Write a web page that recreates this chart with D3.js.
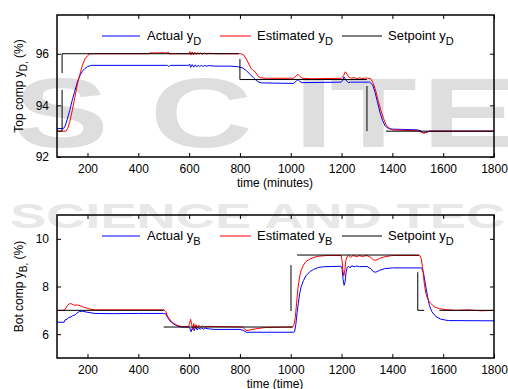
<!DOCTYPE html>
<html>
<head>
<meta charset="utf-8">
<script src="https://cdn.jsdelivr.net/npm/d3@7/dist/d3.min.js"></script>
<style>
  html, body { margin: 0; padding: 0; background: #fff; }
  svg { display: block; font-family: "Liberation Sans", Arial, sans-serif; }
</style>
</head>
<body>
<svg id="chart" width="508" height="389"></svg>
<script>
// ---- Data: time in minutes, compositions in % ----
const xTicks = [200, 400, 600, 800, 1000, 1200, 1400, 1600, 1800];
const topYTicks = [92, 94, 96];
const botYTicks = [6, 8, 10];

// Top composition y_D
const topActual = [
  [80,93.1],[105,93.1],[112,93.2],[120,93.45],[130,93.8],[140,94.2],[150,94.55],[160,94.9],
  [170,95.15],[180,95.32],[190,95.43],[200,95.5],[215,95.55],[515,95.55],[520,95.5],[525,95.55],
  [598,95.55],[602,95.6],[606,95.47],[612,95.58],[618,95.48],[624,95.57],[630,95.49],[636,95.56],
  [642,95.5],[648,95.55],[654,95.51],[660,95.54],[670,95.52],[680,95.54],[700,95.52],[760,95.52],
  [790,95.5],[810,95.45],[825,95.35],[840,95.2],[855,95.05],[870,94.92],[885,94.87],[1010,94.85],
  [1020,94.92],[1028,95.0],[1036,94.92],[1045,94.88],[1198,94.9],[1204,94.95],[1210,95.1],
  [1216,95.0],[1222,94.92],[1228,94.88],[1235,94.9],[1310,94.9],[1322,94.8],[1332,94.5],
  [1342,94.1],[1352,93.7],[1362,93.4],[1372,93.2],[1385,93.1],[1400,93.08],[1500,93.05],
  [1515,93.0],[1522,92.93],[1532,92.95],[1545,93.0],[1800,93.0]
];
const topEstimated = [
  [80,93.0],[115,93.0],[122,93.1],[130,93.35],[140,93.8],[150,94.3],[160,94.8],[170,95.2],
  [180,95.55],[190,95.8],[200,95.92],[210,96.0],[440,96.0],[445,96.03],[512,96.03],[518,96.06],
  [522,95.98],[526,96.0],[600,96.0],[603,96.08],[607,95.95],[612,96.07],[617,95.96],[622,96.06],
  [628,95.97],[634,96.05],[640,95.98],[646,96.04],[652,95.98],[660,96.03],[668,95.99],[680,96.02],
  [700,96.0],[805,96.0],[815,95.95],[825,95.8],[835,95.6],[845,95.42],[852,95.35],[860,95.3],
  [870,95.15],[880,95.07],[900,95.05],[1010,95.05],[1020,95.12],[1028,95.2],[1036,95.12],
  [1045,95.05],[1080,95.03],[1200,95.05],[1208,95.15],[1215,95.3],[1222,95.2],[1230,95.08],
  [1240,95.05],[1250,95.08],[1260,95.03],[1270,95.07],[1280,95.04],[1300,95.06],[1315,95.03],
  [1325,94.85],[1335,94.55],[1345,94.15],[1355,93.8],[1365,93.5],[1375,93.25],[1390,93.1],
  [1400,93.05],[1500,93.02],[1515,92.95],[1525,92.92],[1535,92.97],[1550,93.0],[1800,93.0]
];
// null entries break the setpoint trace
const topSetpoint = [
  [80,93],[100,93],[100,94.6],null,[100,95.25],[100,96],[795,96],null,
  [800,95.8],[800,95.0],[1300,95.0],null,[1300,94.75],[1300,93.0],null,[1375,93.0],[1800,93.0]
];

// Bottom composition y_B
const botActual = [
  [80,6.5],[108,6.5],[112,6.6],[120,6.62],[125,6.7],[135,6.72],[142,6.78],[150,6.8],[158,6.88],
  [168,6.95],[180,6.96],[195,6.93],[210,6.9],[230,6.87],[300,6.86],[400,6.87],[500,6.87],
  [508,6.85],[515,6.7],[525,6.55],[540,6.42],[555,6.34],[570,6.3],[598,6.3],[603,6.25],[608,6.1],
  [614,6.3],[620,6.15],[626,6.3],[632,6.18],[638,6.28],[644,6.2],[650,6.27],[656,6.21],[665,6.25],
  [680,6.22],[700,6.2],[800,6.2],[815,6.15],[825,6.08],[1010,6.08],[1015,6.1],[1020,6.4],
  [1025,6.9],[1030,7.3],[1035,7.7],[1040,7.95],[1050,8.25],[1060,8.45],[1075,8.62],[1090,8.72],
  [1110,8.8],[1130,8.83],[1198,8.85],[1202,8.75],[1206,8.3],[1210,8.05],[1214,8.2],[1218,8.6],
  [1222,8.8],[1228,8.85],[1234,8.78],[1240,8.87],[1250,8.83],[1260,8.86],[1270,8.83],[1300,8.84],
  [1315,8.75],[1325,8.62],[1335,8.6],[1350,8.68],[1370,8.75],[1400,8.78],[1515,8.78],[1522,8.6],
  [1530,8.1],[1538,7.6],[1546,7.2],[1555,6.95],[1570,6.75],[1590,6.63],[1620,6.57],[1800,6.56]
];
const botEstimated = [
  [80,7.0],[108,7.0],[115,7.1],[122,7.22],[130,7.28],[138,7.27],[145,7.22],[165,7.22],[180,7.15],
  [195,7.1],[210,7.05],[230,7.02],[500,7.02],[508,6.95],[515,6.75],[525,6.6],[540,6.45],
  [555,6.36],[570,6.32],[598,6.32],[602,6.45],[606,6.62],[610,6.4],[614,6.2],[618,6.45],[622,6.25],
  [627,6.4],[632,6.27],[638,6.38],[645,6.28],[652,6.35],[660,6.3],[680,6.33],[700,6.32],[810,6.3],
  [820,6.2],[828,6.15],[840,6.18],[860,6.22],[880,6.25],[900,6.28],[1005,6.3],[1012,6.35],
  [1018,6.7],[1023,7.3],[1028,7.9],[1034,8.35],[1040,8.65],[1050,8.9],[1060,9.05],[1075,9.15],
  [1090,9.22],[1110,9.27],[1140,9.3],[1198,9.3],[1202,9.1],[1205,8.7],[1209,8.45],[1213,8.7],
  [1217,9.1],[1222,9.25],[1228,9.3],[1236,9.22],[1245,9.3],[1260,9.25],[1270,9.3],[1280,9.26],
  [1300,9.3],[1315,9.22],[1325,9.12],[1335,9.1],[1350,9.18],[1370,9.25],[1400,9.3],[1508,9.3],
  [1514,9.15],[1520,8.7],[1526,8.1],[1532,7.7],[1540,7.45],[1550,7.3],[1565,7.15],[1585,7.07],
  [1610,7.03],[1650,7.0],[1700,7.02],[1750,6.98],[1800,7.0]
];
const botSetpoint = [
  [80,7.0],[500,7.0],null,[500,6.3],[1008,6.3],null,[1001,8.9],[1001,6.97],null,
  [1025,9.32],[1505,9.32],null,[1500,8.6],[1500,7.0],[1525,7.0],null,[1585,7.0],[1800,7.0]
];

// ---- Layout ----
const svg = d3.select("#chart");
const left = 57, right = 494;
const panels = [
  { top: 15, bottom: 157, yDomain: [92, 97.5], yTicks: topYTicks,
    series: [topActual, topEstimated, topSetpoint],
    names: ["Actual y", "Estimated y", "Setpoint y"], subs: ["D", "D", "D"],
    ylab: ["Top comp y", "D,", " (%)"], xlab: "time (minutes)" },
  { top: 215, bottom: 358, yDomain: [5, 11], yTicks: botYTicks,
    series: [botActual, botEstimated, botSetpoint],
    names: ["Actual y", "Estimated y", "Setpoint y"], subs: ["B", "B", "D"],
    ylab: ["Bot comp y", "B,", " (%)"], xlab: "time (time)" }
];
const colors = ["#0000ff", "#ff0000", "#000000"];

// ---- Faint publisher lettering behind the plots ----
const wm = svg.append("g").attr("fill", "#dedede");
[["S", 14], ["C", 150], ["I", 294], ["T", 330], ["E", 422]].forEach(([ch, x]) => {
  wm.append("text")
    .attr("transform", `translate(${x},147) scale(1.45,1)`)
    .attr("font-size", 98).attr("font-weight", "bold").text(ch);
});
svg.append("text")
  .attr("transform", "translate(10,228) scale(1.55,1)")
  .attr("font-size", 35).attr("font-weight", "bold").attr("fill", "#e8e8e8")
  .text("SCIENCE AND TEC");

const x = d3.scaleLinear().domain([80, 1800]).range([left, right]);

panels.forEach(p => {
  const y = d3.scaleLinear().domain(p.yDomain).range([p.bottom, p.top]);
  const g = svg.append("g");

  const line = d3.line()
    .defined(d => d !== null)
    .x(d => x(d[0])).y(d => y(d[1]));

  const clipId = "clip" + p.top;
  svg.append("clipPath").attr("id", clipId)
    .append("rect").attr("x", left).attr("y", p.top)
    .attr("width", right - left).attr("height", p.bottom - p.top);

  const plot = g.append("g").attr("clip-path", `url(#${clipId})`);
  p.series.forEach((s, i) => {
    plot.append("path").datum(s)
      .attr("fill", "none").attr("stroke", colors[i])
      .attr("stroke-width", 1).attr("d", line);
  });

  // Axes with inward ticks on all four sides
  const fmt = d3.format("d");
  g.append("g").attr("transform", `translate(0,${p.bottom})`)
    .call(d3.axisBottom(x).tickValues(xTicks).tickFormat(fmt).tickSizeInner(-4).tickSizeOuter(0).tickPadding(7));
  g.append("g").attr("transform", `translate(0,${p.top})`)
    .call(d3.axisTop(x).tickValues(xTicks).tickFormat("").tickSizeInner(-4).tickSizeOuter(0));
  g.append("g").attr("transform", `translate(${left},0)`)
    .call(d3.axisLeft(y).tickValues(p.yTicks).tickFormat(fmt).tickSizeInner(-4).tickSizeOuter(0).tickPadding(8));
  g.append("g").attr("transform", `translate(${right},0)`)
    .call(d3.axisRight(y).tickValues(p.yTicks).tickFormat("").tickSizeInner(-4).tickSizeOuter(0));
  g.selectAll(".domain").remove();
  g.selectAll(".tick line").attr("stroke", "#000");
  g.selectAll(".tick text").attr("font-size", 12).attr("fill", "#000")
    .attr("font-family", "'Liberation Sans', Arial, sans-serif");

  g.append("rect").attr("x", left).attr("y", p.top)
    .attr("width", right - left).attr("height", p.bottom - p.top)
    .attr("fill", "none").attr("stroke", "#000").attr("stroke-width", 1.5);

  // Legend along the top of the panel
  const ly = p.top + 21;
  const lx = [[102, 140, 147], [220, 251, 257], [342, 382, 388]];
  p.names.forEach((n, i) => {
    g.append("line").attr("x1", lx[i][0]).attr("x2", lx[i][1])
      .attr("y1", ly).attr("y2", ly).attr("stroke", colors[i]).attr("stroke-width", 1);
    const t = g.append("text").attr("x", lx[i][2]).attr("y", ly + 4)
      .attr("font-size", 13).attr("fill", "#000");
    t.append("tspan").text(n);
    t.append("tspan").attr("font-size", 11).attr("dy", 5).text(p.subs[i]);
  });

  // Axis titles
  const mid = (p.top + p.bottom) / 2;
  const yl = g.append("text")
    .attr("transform", `translate(23,${mid}) rotate(-90)`)
    .attr("text-anchor", "middle").attr("font-size", 12).attr("fill", "#000");
  yl.append("tspan").text(p.ylab[0]);
  yl.append("tspan").attr("font-size", 10).attr("dy", 4).text(p.ylab[1]);
  yl.append("tspan").attr("dy", -4).text(p.ylab[2]);

  g.append("text").attr("x", 275).attr("y", p.bottom + 30)
    .attr("text-anchor", "middle").attr("font-size", 12).attr("fill", "#000")
    .text(p.xlab);
});
</script>
</body>
</html>
